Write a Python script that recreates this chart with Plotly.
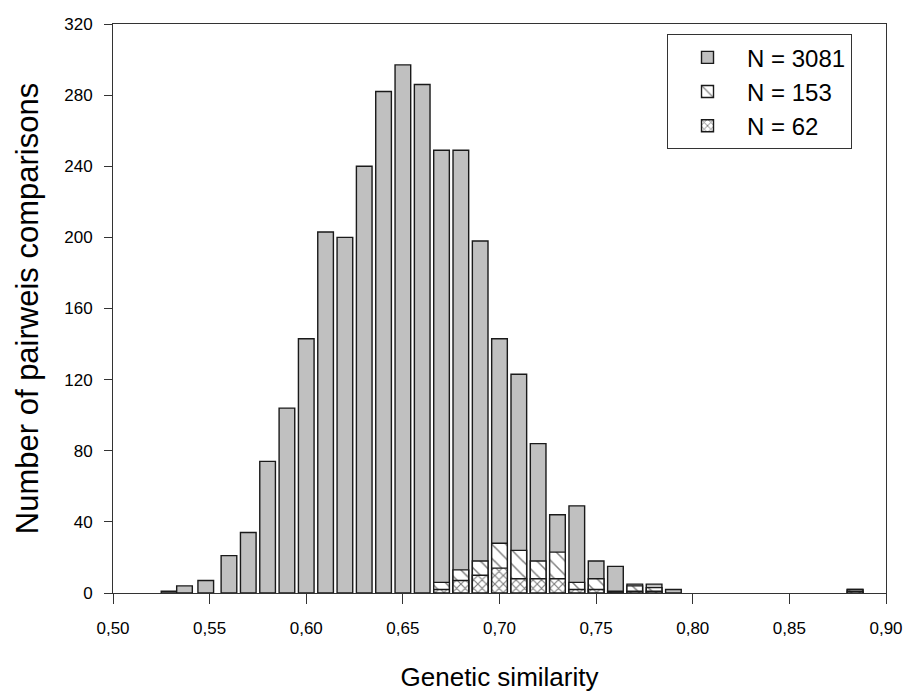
import plotly.graph_objects as go

# Bin centres (genetic similarity)
sim_all = [0.529, 0.537, 0.548, 0.56, 0.57, 0.58, 0.59, 0.60, 0.61, 0.62, 0.63, 0.64,
           0.65, 0.66, 0.67, 0.68, 0.69, 0.70, 0.71, 0.72, 0.73, 0.74, 0.75, 0.76,
           0.77, 0.78, 0.79, 0.884]
count_all = [1, 4, 7, 21, 34, 74, 104, 143, 203, 200, 240, 282, 297, 286, 249, 249,
             198, 143, 123, 84, 44, 49, 18, 15, 5, 5, 2, 2]

sim_sub = [0.67, 0.68, 0.69, 0.70, 0.71, 0.72, 0.73, 0.74, 0.75, 0.76, 0.77, 0.78, 0.884]
count_153 = [6, 13, 18, 28, 24, 18, 23, 6, 8, 1, 4, 3, 2]
count_62 = [2, 7, 10, 14, 8, 8, 8, 2, 2, 0, 1, 1, 1]

names = ["N = 3081", "N = 153", "N = 62"]
x_ticks = [0.50, 0.55, 0.60, 0.65, 0.70, 0.75, 0.80, 0.85, 0.90]
y_ticks = [0, 40, 80, 120, 160, 200, 240, 280, 320]

FONT = "Liberation Sans, Arial, sans-serif"
BAR_W = 0.0081
EDGE = dict(color="#1a1a1a", width=1.4)

fig = go.Figure()
fig.add_trace(go.Bar(x=sim_all, y=count_all, name=names[0], width=BAR_W,
                     marker=dict(color="#c0c0c0", line=EDGE), legendgroup="a"))
fig.add_trace(go.Bar(x=sim_sub, y=count_153, name=names[1], width=BAR_W,
                     marker=dict(color="white", line=EDGE,
                                 pattern=dict(shape="\\", fgcolor="black", bgcolor="white",
                                              size=10, solidity=0.15)),
                     legendgroup="b"))
fig.add_trace(go.Bar(x=sim_sub, y=count_62, name=names[2], width=BAR_W,
                     marker=dict(color="white", line=EDGE,
                                 pattern=dict(shape="x", fgcolor="black", bgcolor="white",
                                              size=6, solidity=0.35)),
                     legendgroup="c"))

fig.update_layout(
    barmode="overlay",
    width=911, height=696,
    margin=dict(l=113, r=25, t=24, b=103, autoexpand=False),
    paper_bgcolor="white", plot_bgcolor="white",
    separators=",.",
    font=dict(family=FONT, color="black"),
    showlegend=True,
    legend=dict(x=0.7167, y=0.982, xanchor="left", yanchor="top",
                bgcolor="white", bordercolor="#333333", borderwidth=1,
                font=dict(size=24, family=FONT), tracegroupgap=0,
                itemwidth=69),
    xaxis=dict(range=[0.50, 0.90], tickvals=x_ticks, tickformat=".2f",
               ticks="outside", ticklen=10, tickwidth=1, tickcolor="#333333",
               showline=True, linecolor="#333333", linewidth=1, mirror=True,
               showgrid=False, zeroline=False, automargin=False,
               tickfont=dict(size=17), ticklabelstandoff=10,
               title=dict(text="Genetic similarity", font=dict(size=26), standoff=30)),
    yaxis=dict(range=[0, 320], tickvals=y_ticks,
               ticks="outside", ticklen=8, tickwidth=1, tickcolor="#333333",
               showline=True, linecolor="#333333", linewidth=1, mirror=True,
               showgrid=False, zeroline=False, automargin=False,
               tickfont=dict(size=17), ticklabelstandoff=8,
               title=dict(text="Number of pairweis comparisons", font=dict(size=31), standoff=16)),
)

fig.write_html("out.html")
